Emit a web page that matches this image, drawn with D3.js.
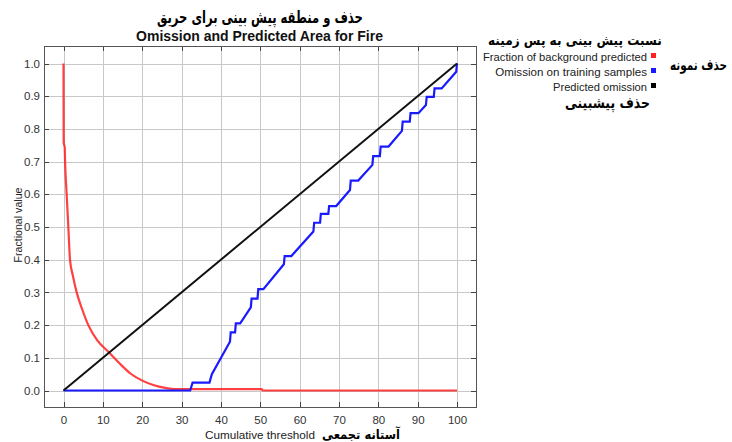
<!DOCTYPE html>
<html>
<head>
<meta charset="utf-8">
<script src="https://cdn.jsdelivr.net/npm/d3@7/dist/d3.min.js"></script>
<style>
  html, body { margin: 0; padding: 0; background: #fff; }
  svg { display: block; }
</style>
</head>
<body>
<svg id="chart" width="732" height="442"></svg>
<script>
// ---- data ----
const xTicks = [0, 10, 20, 30, 40, 50, 60, 70, 80, 90, 100];
const yTicks = [0, 0.1, 0.2, 0.3, 0.4, 0.5, 0.6, 0.7, 0.8, 0.9, 1.0];

// Fraction of background predicted
const bgThreshold = [0, 0.05, 0.3, 0.4, 0.8, 1.23, 1.65, 2.4, 3.35, 4.7, 6.3, 8.5, 11.6, 14.5, 17, 19.9, 23, 25.8, 28.3, 30, 50.4, 50.6, 100];
const bgValue     = [1.0, 0.757, 0.745, 0.70, 0.60, 0.50, 0.40, 0.35, 0.30, 0.25, 0.20, 0.155, 0.116, 0.08, 0.052, 0.031, 0.016, 0.008, 0.004, 0.004, 0.004, 0, 0];

// Omission on training samples
const omThreshold = [0, 32.2, 32.8, 37.1, 37.7, 42.3, 42.5, 43.6, 43.8, 44.9, 47.6, 47.8, 49.3, 49.5, 50.8, 56.0, 56.2, 57.9, 63.5, 63.7, 65.2, 65.4, 67.3, 67.5, 69.3, 72.8, 73.0, 74.9, 78.5, 78.7, 80.4, 80.6, 82.6, 86.0, 86.2, 88.0, 88.2, 90.2, 92.1, 92.3, 94.1, 94.3, 96.1, 99.8, 100];
const omValue     = [0, 0, 0.024, 0.024, 0.05, 0.149, 0.178, 0.178, 0.205, 0.205, 0.254, 0.281, 0.281, 0.31, 0.31, 0.386, 0.411, 0.411, 0.486, 0.513, 0.513, 0.54, 0.54, 0.564, 0.564, 0.613, 0.642, 0.642, 0.69, 0.717, 0.717, 0.746, 0.746, 0.794, 0.822, 0.822, 0.848, 0.848, 0.873, 0.898, 0.898, 0.924, 0.924, 0.975, 1.0];

// Predicted omission
const predThreshold = [0, 100];
const predValue     = [0, 1];

const titleFa = "حذف و منطقه پیش بینی برای حریق";
const titleEn = "Omission and Predicted Area for Fire";
const legendHeaderFa = "نسبت پیش بینی به پس زمینه";
const legendLabels = ["Fraction of background predicted", "Omission on training samples", "Predicted omission"];
const legendColors = ["#ff2020", "#1a1aff", "#000000"];
const legendSampleFa = "حذف نمونه";
const legendPredFa = "حذف پیشبینی";
const xLabel = "Cumulative threshold";
const xLabelFa = "آستانه تجمعی";
const yLabel = "Fractional value";

// ---- layout ----
const svg = d3.select("#chart");
const frame = { left: 44, top: 46, right: 476, bottom: 407 };
const x = d3.scaleLinear().domain([0, 100]).range([63.5, 457]);
const y = d3.scaleLinear().domain([0, 1]).range([390.5, 63.5]);
const latin = "'Liberation Sans', Arial, sans-serif";
const arabic = "'DejaVu Sans', sans-serif";

// scale a text's font size so it spans the given width
function fit(sel, width) {
  const w = sel.node().getComputedTextLength();
  const fs = parseFloat(sel.attr("font-size"));
  sel.attr("font-size", (fs * width / w).toFixed(2));
  return sel;
}
// Persian label: keep its height, narrow it horizontally to span [left, left+width]
function persian(txt, left, baseline, size, width) {
  const g = svg.append("g");
  const t = g.append("text").text(txt)
    .attr("x", 0).attr("y", 0).attr("text-anchor", "start")
    .attr("font-family", arabic).attr("font-weight", "bold").attr("font-size", size).attr("fill", "#000");
  const w = t.node().getComputedTextLength();
  g.attr("transform", `translate(${left},${baseline}) scale(${(width / w).toFixed(4)},1)`);
  return t;
}

svg.append("rect").attr("width", 732).attr("height", 442).attr("fill", "#fff");

// grid
const grid = svg.append("g").attr("stroke", "#c8c8c8").attr("stroke-width", 1);
grid.selectAll("line.gx").data(xTicks).join("line")
  .attr("x1", d => Math.round(x(d)) + 0.5).attr("x2", d => Math.round(x(d)) + 0.5)
  .attr("y1", frame.top).attr("y2", frame.bottom);
grid.selectAll("line.gy").data(yTicks).join("line")
  .attr("y1", d => Math.round(y(d)) + 0.5).attr("y2", d => Math.round(y(d)) + 0.5)
  .attr("x1", frame.left).attr("x2", frame.right);

// frame ticks on all four sides, pointing inward
const tickLen = 5;
const ticks = svg.append("g").attr("stroke", "#444").attr("stroke-width", 1);
xTicks.forEach(d => {
  const px = Math.round(x(d)) + 0.5;
  ticks.append("line").attr("x1", px).attr("x2", px).attr("y1", frame.bottom).attr("y2", frame.bottom - tickLen);
  ticks.append("line").attr("x1", px).attr("x2", px).attr("y1", frame.top).attr("y2", frame.top + tickLen);
});
yTicks.forEach(d => {
  const py = Math.round(y(d)) + 0.5;
  ticks.append("line").attr("y1", py).attr("y2", py).attr("x1", frame.left).attr("x2", frame.left + tickLen);
  ticks.append("line").attr("y1", py).attr("y2", py).attr("x1", frame.right).attr("x2", frame.right - tickLen);
});

// tick labels via d3 axes (lines hidden; ticks drawn above)
const xAxis = svg.append("g").attr("transform", `translate(0,${frame.bottom})`)
  .call(d3.axisBottom(x).tickValues(xTicks).tickFormat(d3.format("d")).tickSize(0).tickPadding(9));
const yAxis = svg.append("g").attr("transform", `translate(${frame.left},0)`)
  .call(d3.axisLeft(y).tickValues(yTicks).tickFormat(d3.format(".1f")).tickSize(0).tickPadding(4));
[xAxis, yAxis].forEach(a => {
  a.select(".domain").remove();
  a.selectAll("text").attr("font-family", latin).attr("font-size", 11.5).attr("fill", "#333");
});

// curves
const line = d3.line().x(d => x(d[0])).y(d => y(d[1]));
const zip = (a, b) => a.map((v, i) => [v, b[i]]);

svg.append("path").datum(zip(bgThreshold, bgValue))
  .attr("fill", "none").attr("stroke", "#ff2020").attr("stroke-opacity", 0.85).attr("stroke-width", 2.2)
  .attr("d", line.curve(d3.curveMonotoneX));
svg.append("path").datum(zip(omThreshold, omValue))
  .attr("fill", "none").attr("stroke", "#1a1aff").attr("stroke-width", 2.2)
  .attr("d", line.curve(d3.curveLinear));
svg.append("path").datum(zip(predThreshold, predValue))
  .attr("fill", "none").attr("stroke", "#111").attr("stroke-width", 2)
  .attr("d", line.curve(d3.curveLinear));

// frame
svg.append("rect")
  .attr("x", frame.left + 0.5).attr("y", frame.top + 0.5)
  .attr("width", frame.right - frame.left).attr("height", frame.bottom - frame.top)
  .attr("fill", "none").attr("stroke", "#555").attr("stroke-width", 1);

// titles
persian(titleFa, 157, 23, 16.5, 206);
fit(svg.append("text").text(titleEn)
  .attr("x", 259.5).attr("y", 40.5).attr("text-anchor", "middle")
  .attr("font-family", latin).attr("font-weight", "bold").attr("font-size", 12.5).attr("fill", "#111"), 247);

// legend
persian(legendHeaderFa, 488, 44.5, 13.5, 174);

const legendWidths = [164, 152, 94];
legendLabels.forEach((label, i) => {
  const cy = 56 + i * 15;
  fit(svg.append("text").text(label)
    .attr("x", 647).attr("y", cy + 4.5).attr("text-anchor", "end")
    .attr("font-family", latin).attr("font-size", 11.5).attr("fill", "#222"), legendWidths[i]);
  svg.append("rect").attr("x", 651).attr("y", cy - 3).attr("width", 5).attr("height", 5)
    .attr("fill", legendColors[i]);
});

persian(legendSampleFa, 670, 69.5, 14.5, 57);
persian(legendPredFa, 565, 108, 15, 85);

// axis titles
fit(svg.append("text").text(xLabel)
  .attr("x", 260).attr("y", 439).attr("text-anchor", "middle")
  .attr("font-family", latin).attr("font-size", 11.5).attr("fill", "#222"), 110);
persian(xLabelFa, 322, 438.5, 13, 78);
fit(svg.append("text").text(yLabel)
  .attr("transform", "translate(22,225) rotate(-90)").attr("text-anchor", "middle")
  .attr("font-family", latin).attr("font-size", 11.5).attr("fill", "#222"), 75);
</script>
</body>
</html>
